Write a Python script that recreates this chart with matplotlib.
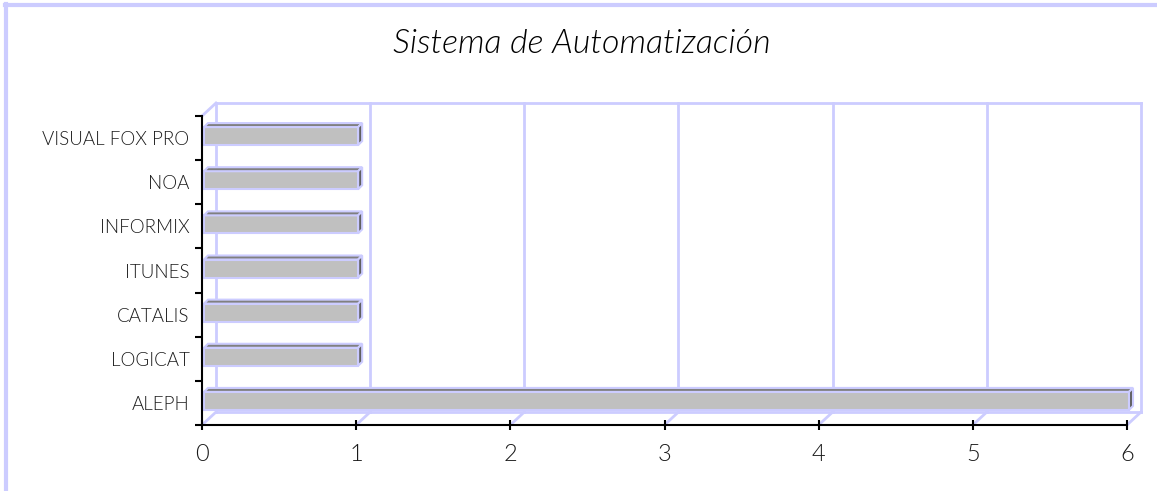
import numpy as np
import matplotlib.pyplot as plt
from matplotlib.patches import Polygon
from matplotlib.lines import Line2D

categories = ['ALEPH', 'LOGICAT', 'CATALIS', 'ITUNES', 'INFORMIX', 'NOA', 'VISUAL FOX PRO']
values = [6, 1, 1, 1, 1, 1, 1]
xticks = [0, 1, 2, 3, 4, 5, 6]
title = 'Sistema de Automatización'

W, H = 1157, 491
lav = '#ccccff'
font = 'Lato'
txt = '#1a1a1a'

fig = plt.figure(figsize=(W / 100, H / 100), dpi=100)
fig.patch.set_facecolor('white')

# axes placed in pixels (front plane of the 3D chart)
x0, x1, ytop, ybot = 202, 1127, 116, 425
ax = fig.add_axes([x0 / W, (H - ybot) / H, (x1 - x0) / W, (ybot - ytop) / H])
ax.set_xlim(0, 6)
ax.set_ylim(0, len(categories))
ax.set_facecolor('none')

# pixel -> data factors
kx = 6 / (x1 - x0)
ky = len(categories) / (ybot - ytop)
n = len(categories)

# depth offset of back wall
ddx, ddy = 14 * kx, 13 * ky

def line(xs, ys, **kw):
    ax.add_line(Line2D(xs, ys, color=lav, lw=2, clip_on=False, zorder=1, **kw))

# back wall gridlines + floor diagonals
for xv in xticks:
    line([xv + ddx, xv + ddx], [ddy, n + ddy])
    line([xv, xv + ddx], [0, ddy])
line([ddx, 6 + ddx], [ddy, ddy])
line([ddx, 6 + ddx], [n + ddy, n + ddy])
line([0, ddx], [n, n + ddy])

# 3D bars
bh = 18 * ky
sx, sy = 2 * kx, 2 * ky
tx, ty = 4 * kx, 4 * ky
for i, v in enumerate(values):
    yc = i + 0.5 + sy
    xl, xr = sx, v + sx
    yb, yt = yc - bh / 2, yc + bh / 2
    front = [(xl, yb), (xr, yb), (xr, yt), (xl, yt)]
    top = [(xl, yt), (xr, yt), (xr + tx, yt + ty), (xl + tx, yt + ty)]
    side = [(xr, yb), (xr + tx, yb + ty), (xr + tx, yt + ty), (xr, yt)]
    for pts, c in [(front, '#c0c0c0'), (top, '#808080'), (side, '#606060')]:
        ax.add_patch(Polygon(pts, closed=True, facecolor=c, edgecolor=lav,
                             lw=1.5, clip_on=False, zorder=3))

for s in ['top', 'right']:
    ax.spines[s].set_visible(False)
for s in ['left', 'bottom']:
    ax.spines[s].set_color('black')
    ax.spines[s].set_linewidth(1.5)
    ax.spines[s].set_zorder(4)

ax.set_xticks(xticks)
ax.set_xticklabels([str(t) for t in xticks], fontsize=17, color=txt,
                   family=font, fontweight=300)
ax.tick_params(axis='x', direction='inout', length=7, width=1.5, pad=10)

ax.set_yticks(np.arange(0, n + 1))
ax.set_yticklabels([])
ax.tick_params(axis='y', which='major', direction='out', length=5, width=1.5)
ax.set_yticks(np.arange(n) + 0.5, minor=True)
ax.set_yticklabels(categories, minor=True, fontsize=13.5, color=txt,
                   family=font, fontweight=300)
ax.tick_params(axis='y', which='minor', length=0, pad=9)

fig.text(582 / W, 1 - 44 / H, title, ha='center', va='center', fontsize=24.5,
         family=font, fontweight=300, style='italic', color='black')

# outer chart border
fig.add_artist(Line2D([6 / W, 6 / W], [0, 1 - 4 / H], color=lav, lw=3,
                      transform=fig.transFigure))
fig.add_artist(Line2D([5 / W, 1], [1 - 5 / H, 1 - 5 / H], color=lav, lw=3,
                      transform=fig.transFigure))

fig.savefig('out.png', dpi=100)
